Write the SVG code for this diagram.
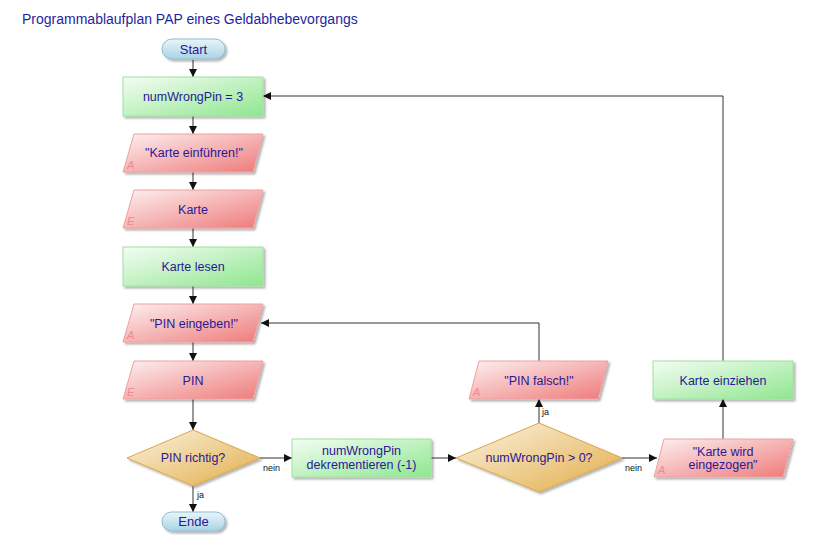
<svg xmlns="http://www.w3.org/2000/svg" width="814" height="548" viewBox="0 0 814 548">
<defs>
<linearGradient id="gRect" x1="0" y1="0" x2="1" y2="1">
<stop offset="0" stop-color="#f4fdf4"/><stop offset="1" stop-color="#8fe68f"/>
</linearGradient>
<linearGradient id="gPar" x1="0" y1="0" x2="1" y2="1">
<stop offset="0" stop-color="#fdf0f0"/><stop offset="1" stop-color="#ee7a7a"/>
</linearGradient>
<linearGradient id="gDia" x1="0" y1="0" x2="1" y2="1">
<stop offset="0" stop-color="#fbf3e2"/><stop offset="1" stop-color="#e2ad48"/>
</linearGradient>
<linearGradient id="gPill" x1="0" y1="0" x2="0" y2="1">
<stop offset="0" stop-color="#eaf5fa"/><stop offset="1" stop-color="#a9d3e4"/>
</linearGradient>
<filter id="sh" x="-10%" y="-10%" width="130%" height="140%">
<feDropShadow dx="2" dy="2" stdDeviation="0.8" flood-color="#000" flood-opacity="0.3"/>
</filter>
<marker id="ah" viewBox="0 0 8 8" refX="8" refY="4" markerWidth="8" markerHeight="8" markerUnits="userSpaceOnUse" orient="auto">
<path d="M0,0 L8,4 L0,8 Z" fill="#111"/>
</marker>
</defs>
<style>
.t{font-family:"Liberation Sans",Arial,sans-serif;font-size:12.5px;fill:#2a1896;text-anchor:middle}
.title{font-family:"Liberation Sans",Arial,sans-serif;font-size:14px;fill:#1f1fa0}
.rect{fill:url(#gRect);stroke:#9ee09e;stroke-width:1;filter:url(#sh)}
.par{fill:url(#gPar);stroke:#f0a0a0;stroke-width:1;filter:url(#sh)}
.dia{fill:url(#gDia);stroke:#dba646;stroke-width:1;filter:url(#sh)}
.pill{fill:url(#gPill);stroke:#8dbcd2;stroke-width:1;filter:url(#sh)}
.io{font-family:"Liberation Sans",Arial,sans-serif;font-size:11px;font-style:italic;fill:#f08a8a}
.c{fill:none;stroke:#333;stroke-width:1;marker-end:url(#ah)}
.lbl{font-family:"Liberation Sans",Arial,sans-serif;font-size:9px;fill:#111}
</style>
<rect width="814" height="548" fill="#fff"/>
<text class="title" x="22" y="24">Programmablaufplan PAP eines Geldabhebevorgangs</text>

<g id="connectors">
<path class="c" d="M193,60 V77"/>
<path class="c" d="M193,116 V134"/>
<path class="c" d="M193,172 V190"/>
<path class="c" d="M193,228 V247"/>
<path class="c" d="M193,286 V304"/>
<path class="c" d="M193,342 V361"/>
<path class="c" d="M193,399 V430"/>
<path class="c" d="M193,486 V512"/>
<path class="c" d="M260,458 H292"/>
<path class="c" d="M431,458 H456"/>
<path class="c" d="M622,458 H657"/>
<path class="c" d="M539,423 V399"/>
<path class="c" d="M723,439 V399"/>
<path class="c" d="M539,361 V323 H261"/>
<path class="c" d="M723,361 V96 H263"/>
<text class="lbl" x="197" y="498">ja</text>
<text class="lbl" x="263" y="471">nein</text>
<text class="lbl" x="542" y="415">ja</text>
<text class="lbl" x="625" y="471">nein</text>
</g>

<g id="start">
<rect class="pill" x="162" y="39" width="63" height="20" rx="10"/>
<text class="t" x="193.5" y="54" style="font-size:13px">Start</text>
</g>
<g id="init">
<rect class="rect" x="123" y="77" width="140" height="39"/>
<text class="t" x="193" y="101">numWrongPin = 3</text>
</g>
<g id="out_karte">
<path class="par" d="M134,134 H263 L253,172 H123 Z"/>
<text class="t" x="194" y="157">"Karte einführen!"</text>
<text class="io" x="127" y="169">A</text>
</g>
<g id="in_karte">
<path class="par" d="M134,190 H263 L253,228 H123 Z"/>
<text class="t" x="193" y="214">Karte</text>
<text class="io" x="127" y="225">E</text>
</g>
<g id="karte_lesen">
<rect class="rect" x="123" y="247" width="140" height="39"/>
<text class="t" x="193" y="271">Karte lesen</text>
</g>
<g id="out_pin">
<path class="par" d="M134,304 H263 L253,342 H123 Z"/>
<text class="t" x="194" y="328">"PIN eingeben!"</text>
<text class="io" x="127" y="339">A</text>
</g>
<g id="in_pin">
<path class="par" d="M134,361 H263 L253,399 H123 Z"/>
<text class="t" x="193" y="385">PIN</text>
<text class="io" x="127" y="396">E</text>
</g>
<g id="pin_richtig">
<path class="dia" d="M193,430 L260,458 L193,486 L127,458 Z"/>
<text class="t" x="193" y="462">PIN richtig?</text>
</g>
<g id="ende">
<rect class="pill" x="162" y="512" width="63" height="19" rx="9.5"/>
<text class="t" x="193.5" y="526" style="font-size:13px">Ende</text>
</g>
<g id="dekrement">
<rect class="rect" x="292" y="439" width="139" height="38"/>
<text class="t" x="361.5" y="455">numWrongPin</text>
<text class="t" x="361.5" y="469">dekrementieren (-1)</text>
</g>
<g id="check_wrong">
<path class="dia" d="M539,423 L622,458 L539,492 L456,458 Z"/>
<text class="t" x="539" y="462">numWrongPin &gt; 0?</text>
</g>
<g id="pin_falsch">
<path class="par" d="M479,361 H608 L598,399 H469 Z"/>
<text class="t" x="539" y="385">"PIN falsch!"</text>
<text class="io" x="473" y="396">A</text>
</g>
<g id="karte_einziehen">
<rect class="rect" x="653" y="361" width="140" height="38"/>
<text class="t" x="723" y="385">Karte einziehen</text>
</g>
<g id="karte_eingezogen">
<path class="par" d="M664,439 H793 L783,477 H654 Z"/>
<text class="t" x="723" y="456">"Karte wird</text>
<text class="t" x="723" y="469">eingezogen"</text>
<text class="io" x="658" y="474">A</text>
</g>
</svg>
